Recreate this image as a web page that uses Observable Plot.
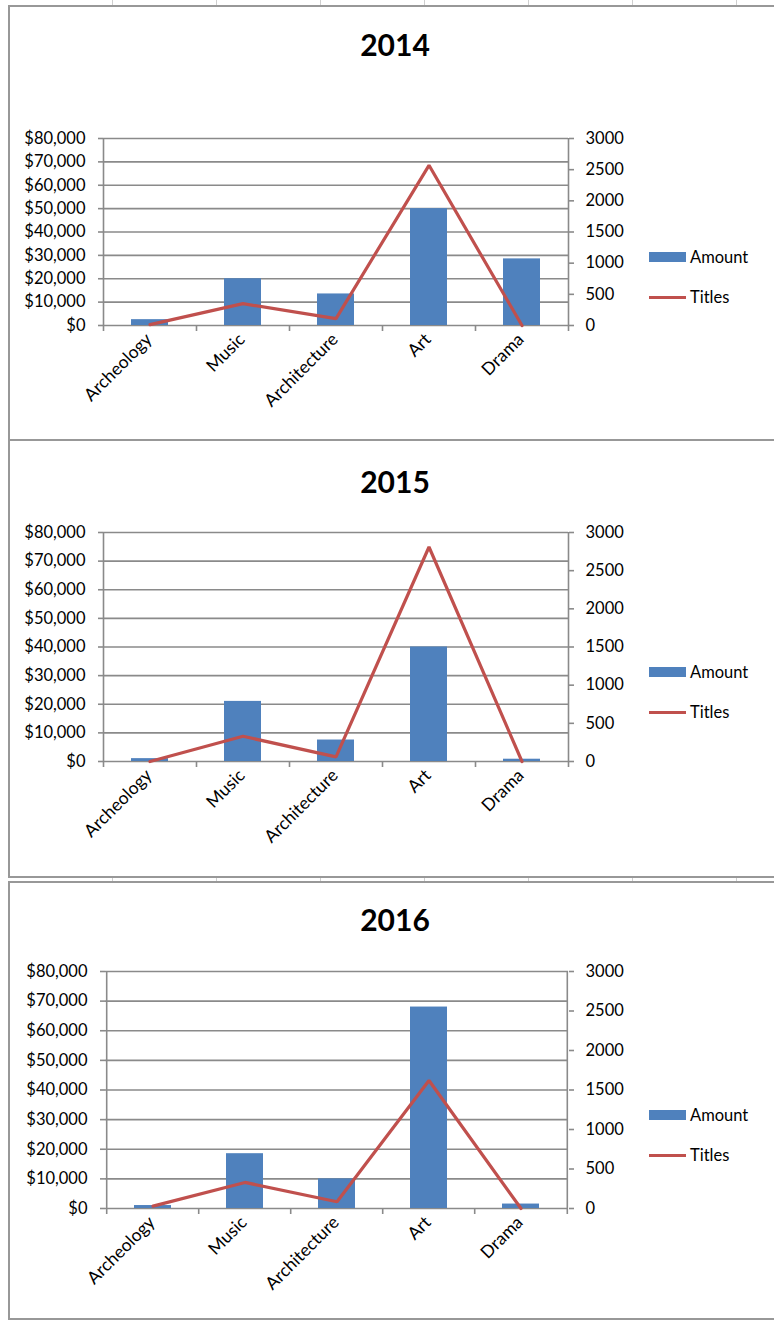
<!DOCTYPE html>
<html><head><meta charset="utf-8">
<script src="https://cdn.jsdelivr.net/npm/d3@7"></script>
<script src="https://cdn.jsdelivr.net/npm/@observablehq/plot@0.6"></script>
<style>
html,body{margin:0;padding:0;background:#fff;}
#page{position:relative;width:774px;height:1321px;overflow:hidden;background:#fff;font-family:Lato,"Open Sans",sans-serif;color:#000;}
.panel{position:absolute;box-sizing:border-box;border:2px solid #989898;border-right:none;left:8px;width:800px;}
.cell{position:absolute;width:1px;background:#cfcfcf;}
.title{position:absolute;font-weight:bold;font-size:30px;line-height:30px;transform:translateX(-50%);white-space:nowrap;}
.leg{position:absolute;font-size:16.5px;line-height:18px;white-space:nowrap;}
.sw{position:absolute;}
.chart{position:absolute;left:0;}
</style></head><body><div id="page"></div>
<script>
const categories = ["Archeology", "Music", "Architecture", "Art", "Drama"];
const years = ["2014", "2015", "2016"];
const amount2014 = [2500, 20000, 13500, 50000, 28500];
const titles2014 = [15, 350, 110, 2570, 0];
const amount2015 = [1000, 21000, 7500, 40000, 800];
const titles2015 = [0, 330, 60, 2810, 0];
const amount2016 = [1000, 18500, 10000, 68000, 1500];
const titles2016 = [30, 330, 85, 1620, 0];
const amountTicks = [0, 10000, 20000, 30000, 40000, 50000, 60000, 70000, 80000];
const titleTicks = [0, 500, 1000, 1500, 2000, 2500, 3000];
const seriesNames = ["Amount", "Titles"];

const blue = "#4F81BD", red = "#C0504D", grid = "#8a8a8a";
const amountMax = 80000, titlesMax = 3000;
const k = amountMax / titlesMax;

const layouts = [
  {box: [5, 441], plotTop: 138, plotBottom: 325, plotLeft: 103, plotRight: 568, titleY: 45, legY: [257, 297]},
  {box: [439, 878], plotTop: 532, plotBottom: 761, plotLeft: 103, plotRight: 568, titleY: 482, legY: [672, 712]},
  {box: [881, 1320], plotTop: 971, plotBottom: 1208, plotLeft: 105, plotRight: 568, titleY: 920, legY: [1115, 1155]}
];
const seriesByYear = [[amount2014, titles2014], [amount2015, titles2015], [amount2016, titles2016]];

const page = document.getElementById("page");

// spreadsheet cell lines visible between charts
const cellXs = [112, 216, 320, 424, 528, 632, 736];
for (const [y0, y1] of [[0, 6], [877, 882]]) {
  for (const x of cellXs) {
    const c = document.createElement("div");
    c.className = "cell";
    c.style.left = x + "px"; c.style.top = y0 + "px"; c.style.height = (y1 - y0) + "px";
    page.appendChild(c);
  }
}

function chart(L, amounts, titles) {
  const rows = categories.map((c, i) => ({category: c, amount: amounts[i], titles: titles[i]}));
  const W = 774;
  const svgTop = L.plotTop - 20;
  const svgBottom = L.box[1] - 4;
  const plotH = L.plotBottom - L.plotTop;
  const step = (L.plotRight - L.plotLeft) / categories.length;
  const tickLen = 6 * amountMax / plotH;
  const first = categories[0], last = categories[categories.length - 1];
  const svg = Plot.plot({
    width: W, height: svgBottom - svgTop,
    marginLeft: L.plotLeft, marginRight: W - L.plotRight,
    marginTop: L.plotTop - svgTop, marginBottom: svgBottom - L.plotBottom,
    style: {fontFamily: "Lato, sans-serif", fontSize: "16.5px", color: "#000", background: "transparent", overflow: "visible"},
    x: {domain: categories, paddingInner: 0.6, paddingOuter: 0.3, label: null},
    y: {domain: [0, amountMax], label: null},
    marks: [
      Plot.ruleY(amountTicks, {y: d => d, stroke: grid, strokeWidth: 1.6}),
      Plot.barY(rows, {x: "category", y: "amount", fill: blue}),
      Plot.ruleX([first], {x: d => d, y1: -tickLen, y2: amountMax, dx: -step / 2, stroke: grid, strokeWidth: 1.6}),
      Plot.ruleX([last], {x: d => d, y1: -tickLen, y2: amountMax, dx: step / 2, stroke: grid, strokeWidth: 1.6}),
      Plot.ruleX(categories.slice(1), {x: d => d, y1: -tickLen, y2: 0, dx: -step / 2, stroke: grid, strokeWidth: 1.6}),
      Plot.line(rows, {x: "category", y: d => d.titles * k, stroke: red, strokeWidth: 3.2, strokeLinejoin: "miter"}),
      Plot.axisY(amountTicks, {anchor: "left", label: null, tickSize: 5, tickPadding: 13, stroke: grid, strokeWidth: 1.6, fill: "#000", fontSize: 16.5,
        tickFormat: d => "$" + d3.format(",")(d)}),
      Plot.axisY(titleTicks.map(t => t * k), {anchor: "right", label: null, tickSize: 5, tickPadding: 12, stroke: grid, strokeWidth: 1.6, fill: "#000", fontSize: 16.5,
        tickFormat: d => String(Math.round(d / k))}),
      Plot.axisX({label: null, tickSize: 0, tickPadding: 11, tickRotate: -45, fontSize: 17.5, fill: "#000", dx: -1})
    ]
  });
  const wrap = document.createElement("div");
  wrap.className = "chart";
  wrap.style.top = svgTop + "px";
  wrap.appendChild(svg);
  return wrap;
}

layouts.forEach((L, i) => {
  const box = document.createElement("div");
  box.className = "panel";
  box.style.top = L.box[0] + "px";
  box.style.height = (L.box[1] - L.box[0]) + "px";
  page.appendChild(box);

  const t = document.createElement("div");
  t.className = "title";
  t.textContent = years[i];
  t.style.left = "395px";
  t.style.top = (L.titleY - 16) + "px";
  page.appendChild(t);

  page.appendChild(chart(L, seriesByYear[i][0], seriesByYear[i][1]));

  // legend
  const sw1 = document.createElement("div");
  sw1.className = "sw";
  Object.assign(sw1.style, {left: "649px", top: (L.legY[0] - 5) + "px", width: "37px", height: "10px", background: blue});
  page.appendChild(sw1);
  const sw2 = document.createElement("div");
  sw2.className = "sw";
  Object.assign(sw2.style, {left: "649px", top: (L.legY[1] - 1.5) + "px", width: "37px", height: "3px", background: red});
  page.appendChild(sw2);
  seriesNames.forEach((name, j) => {
    const l = document.createElement("div");
    l.className = "leg";
    l.textContent = name;
    l.style.left = "690px";
    l.style.top = (L.legY[j] - 9) + "px";
    page.appendChild(l);
  });
});
</script>
</body></html>
